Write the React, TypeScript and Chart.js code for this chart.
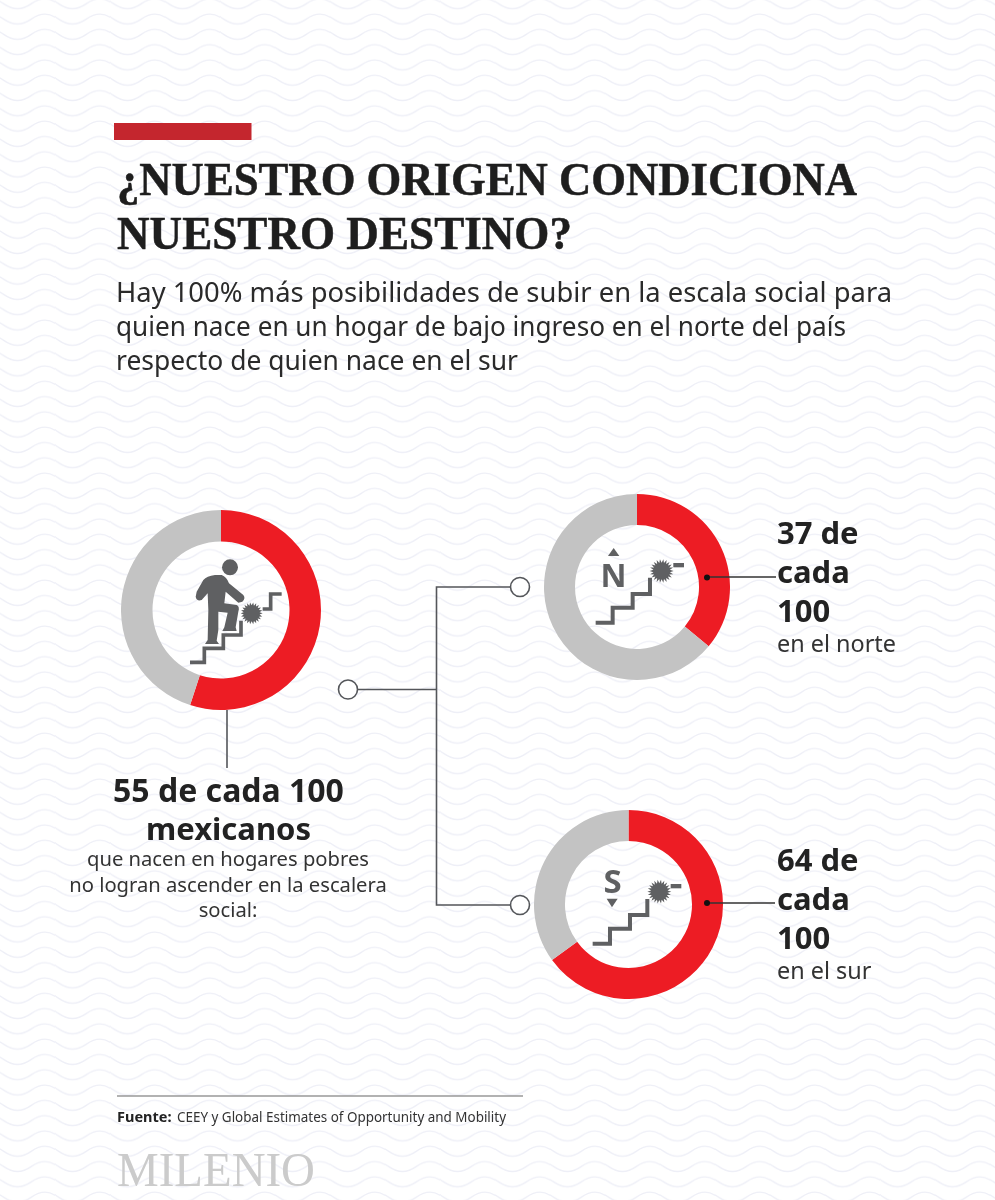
import React, { useEffect, useRef } from "react";
import { Chart, registerables } from "chart.js";

Chart.register(...registerables);

const segmentLabels = ["No ascienden", "Resto"];
// Arc sizes as measured on the picture. The arcs for the north and south sit about one
// point away from their printed labels (37 and 64), which stay as printed in the text below.
const nationalValues = [55, 45];
const northValues = [36, 64];
const southValues = [65, 35];
const RED = "#ED1C24";
const GREY = "#C3C3C3";
const ICON = "#5F6062";
const LINE = "#54565A";
const SANS = "'Noto Sans', sans-serif";
const SERIF = "'Liberation Serif', serif";

const titleLines = ["¿NUESTRO ORIGEN CONDICIONA", "NUESTRO DESTINO?"];
const subtitleLines = [
  "Hay 100% más posibilidades de subir en la escala social para",
  "quien nace en un hogar de bajo ingreso en el norte del país",
  "respecto de quien nace en el sur",
];

function Donut({ values, cx, cy, r, inner }: { values: number[]; cx: number; cy: number; r: number; inner: number }) {
  const ref = useRef<HTMLCanvasElement>(null);
  useEffect(() => {
    const chart = new Chart(ref.current!, {
      type: "doughnut",
      data: {
        labels: segmentLabels,
        datasets: [{ data: values, backgroundColor: [RED, GREY], borderWidth: 0 }],
      },
      options: {
        responsive: false,
        animation: false,
        cutout: inner,
        rotation: 0,
        circumference: 360,
        layout: { padding: 0 },
        events: [],
        plugins: { legend: { display: false }, tooltip: { enabled: false }, title: { display: false } },
      },
    });
    return () => chart.destroy();
  }, []);
  return (
    <canvas
      ref={ref}
      width={r * 2}
      height={r * 2}
      style={{ position: "absolute", left: cx - r, top: cy - r, width: r * 2, height: r * 2, display: "block" }}
    />
  );
}

function burstPoints(cx: number, cy: number, outer: number, innerR: number, n: number) {
  const pts: string[] = [];
  for (let i = 0; i < n * 2; i++) {
    const a = (Math.PI * i) / n;
    const rad = i % 2 === 0 ? outer : innerR;
    pts.push(`${(cx + rad * Math.cos(a)).toFixed(1)},${(cy + rad * Math.sin(a)).toFixed(1)}`);
  }
  return pts.join(" ");
}

function Stairs({ pts, w = 11 }: { pts: string; w?: number }) {
  return <polyline points={pts} fill="none" stroke={ICON} strokeWidth={w} />;
}

function Label({ x, y, lines, step }: { x: number; y: number; lines: string[]; step: number }) {
  return (
    <>
      {lines.map((l, i) => (
        <text key={l} x={x} y={y + i * step} fontFamily={SANS} fontWeight={700} fontSize={31} fill="#222">
          {l}
        </text>
      ))}
    </>
  );
}

export default function App() {
  return (
    <div style={{ position: "absolute", left: 0, top: 0, width: 995, height: 1200, overflow: "hidden", background: "#fff" }}>
      <svg width={995} height={1200} style={{ position: "absolute", left: 0, top: 0 }}>
        <defs>
          <pattern id="waves" width={55} height={15.3} patternUnits="userSpaceOnUse" patternTransform="translate(0 11.1)">
            <path
              d="M-10 3 C3 3 4.5 13 17.5 13 S32 3 45 3 S58 13 71 13"
              fill="none"
              stroke="#EEEFF7"
              strokeWidth={1.4}
            />
          </pattern>
        </defs>
        <rect width={995} height={1200} fill="url(#waves)" />
      </svg>

      <Donut values={nationalValues} cx={220.5} cy={610} r={100} inner={68.5} />
      <Donut values={northValues} cx={637} cy={586.5} r={93} inner={62} />
      <Donut values={southValues} cx={628} cy={904.5} r={94.5} inner={63.5} />

      <svg width={995} height={1200} style={{ position: "absolute", left: 0, top: 0 }}>
        <rect x={114} y={123} width={137.5} height={17} fill="#C4262E" />
        {titleLines.map((l, i) => (
          <text
            key={l}
            x={117}
            y={195 + i * 54}
            fontFamily={SERIF}
            fontWeight={700}
            fontSize={46}
            fill="#1E1E1E"
            stroke="#1E1E1E"
            strokeWidth={0.5}
            textLength={i === 0 ? 740 : 455}
            lengthAdjust="spacingAndGlyphs"
          >
            {l}
          </text>
        ))}
        {subtitleLines.map((l, i) => (
          <text
            key={l}
            x={116}
            y={[302, 336, 369.5][i]}
            fontFamily={SANS}
            fontSize={27}
            fill="#2A2A2A"
            textLength={[776, 730, 402][i]}
            lengthAdjust="spacingAndGlyphs"
          >
            {l}
          </text>
        ))}

        {/* connectors */}
        <g stroke={LINE} strokeWidth={1.6} fill="none">
          <line x1={227} y1={710} x2={227} y2={768} />
          <line x1={358} y1={689.5} x2={436.5} y2={689.5} />
          <polyline points="510,587 436.5,587 436.5,905 510,905" />
          <circle cx={348} cy={689.5} r={9.5} fill="#fff" />
          <circle cx={520} cy={587} r={9.5} fill="#fff" />
          <circle cx={520} cy={905} r={9.5} fill="#fff" />
          <line x1={707} y1={577} x2={776} y2={577} stroke="#333" />
          <line x1={707} y1={903} x2={775} y2={903} stroke="#333" />
        </g>
        <circle cx={707} cy={577.5} r={3} fill="#111" />
        <circle cx={707} cy={903} r={3} fill="#111" />

        {/* person icon */}
        <g transform="translate(185,550) scale(0.3333)">
          <circle cx={135} cy={52} r={24} fill={ICON} />
          <path
            d="M35 125 L55 90 Q65 78 90 75 L110 75 Q125 80 132 100 L175 135 Q183 145 172 155 L160 158 L122 125 L118 160 L155 165 Q165 170 160 185 L152 232 L155 243 L112 243 L118 232 L128 188 L100 185 L100 240 L95 272 L102 282 L60 282 L68 270 L70 180 L68 130 L50 150 Q35 155 32 140 Z"
            fill={ICON}
          />
          <Stairs pts="15,337 58,337 58,295 115,295 115,255 168,255 168,212" />
          <Stairs pts="233,177 257,177 257,132 290,132" />
          <polygon points={burstPoints(200, 190, 33, 24, 22)} fill={ICON} />
        </g>

        {/* north icon */}
        <g transform="translate(530,480) scale(0.3333)">
          <polygon points="251,204 234,228 268,228" fill={ICON} />
          <Stairs pts="197,428 248,428 248,383 308,383 308,342 360,342 360,293" w={12} />
          <polygon points={burstPoints(395, 273, 36, 25, 22)} fill={ICON} />
          <rect x={430} y={249} width={32} height={13} fill={ICON} />
        </g>
        <text x={613.5} y={587} textAnchor="middle" fontFamily={SANS} fontWeight={700} fontSize={32} fill={ICON}>
          N
        </text>

        {/* south icon */}
        <g transform="translate(520,800) scale(0.3333)">
          <polygon points="260,296 293,296 276,322" fill={ICON} />
          <Stairs pts="218,431 270,431 270,386 330,386 330,345 382,345 382,297" w={12} />
          <polygon points={burstPoints(418, 275, 36, 25, 22)} fill={ICON} />
          <rect x={452} y={252} width={32} height={13} fill={ICON} />
        </g>
        <text x={612.5} y={893} textAnchor="middle" fontFamily={SANS} fontWeight={700} fontSize={33} fill={ICON}>
          S
        </text>

        {/* left text */}
        <text x={228.5} y={802} textAnchor="middle" fontFamily={SANS} fontWeight={700} fontSize={32} fill="#222">
          55 de cada 100
        </text>
        <text x={228.5} y={840} textAnchor="middle" fontFamily={SANS} fontWeight={700} fontSize={31} fill="#222">
          mexicanos
        </text>
        {["que nacen en hogares pobres", "no logran ascender en la escalera", "social:"].map((l, i) => (
          <text key={l} x={228} y={[866, 892, 917][i]} textAnchor="middle" fontFamily={SANS} fontSize={20.2} fill="#333">
            {l}
          </text>
        ))}

        {/* right labels */}
        <Label x={777} y={544} lines={["37 de", "cada", "100"]} step={38.8} />
        <text x={777} y={652} fontFamily={SANS} fontSize={23.4} fill="#333">
          en el norte
        </text>
        <Label x={777} y={871} lines={["64 de", "cada", "100"]} step={38.8} />
        <text x={777} y={979} fontFamily={SANS} fontSize={23.4} fill="#333">
          en el sur
        </text>

        {/* footer */}
        <line x1={117} y1={1096} x2={523} y2={1096} stroke="#666" strokeWidth={1.2} />
        <text x={117} y={1122} fontFamily={SANS} fontWeight={700} fontSize={14.5} fill="#222">
          Fuente:
        </text>
        <text x={177} y={1122} fontFamily={SANS} fontSize={14} fill="#333" textLength={329} lengthAdjust="spacingAndGlyphs">
          CEEY y Global Estimates of Opportunity and Mobility
        </text>
        <text
          x={117}
          y={1186}
          fontFamily={SERIF}
          fontSize={49}
          fill="#CBCBCB"
          textLength={198}
          lengthAdjust="spacingAndGlyphs"
        >
          MILENIO
        </text>
      </svg>
    </div>
  );
}
